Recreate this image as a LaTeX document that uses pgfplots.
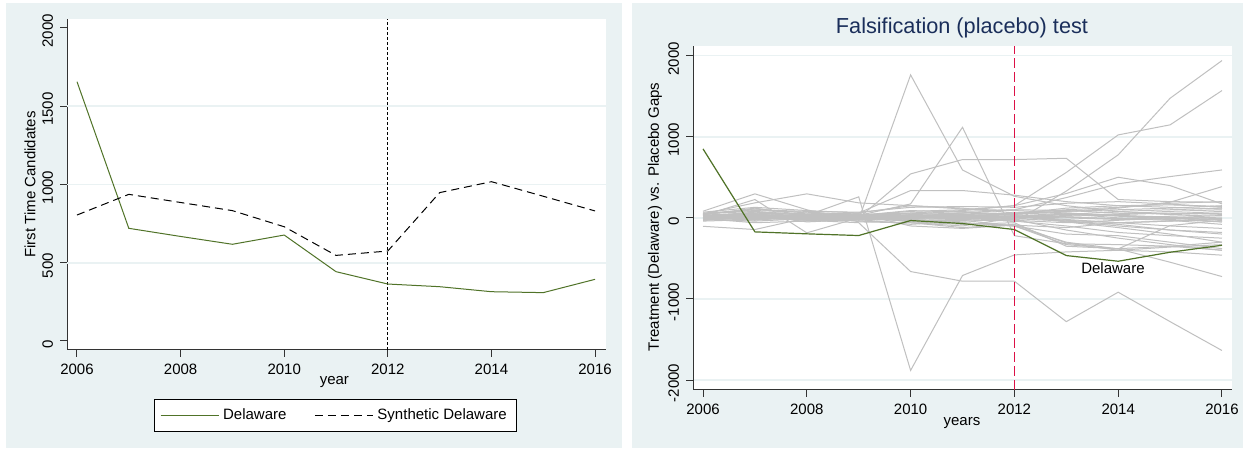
\documentclass[border=0pt]{standalone}
\usepackage{fontspec}
\setmainfont{Liberation Sans}
\usepackage{pgfplots}
\usepackage{pgfplotstable}
\pgfplotsset{compat=1.18}
\definecolor{stbg}{RGB}{234,242,243}
\definecolor{stgrid}{RGB}{234,242,243}
\definecolor{dgreen}{RGB}{80,115,40}
\definecolor{plc}{RGB}{192,192,192}
\definecolor{tnavy}{RGB}{26,46,90}
\definecolor{vred}{RGB}{220,16,70}

\pgfplotstableread{
yr   del   syn
2006 1657  805
2007 720   937
2008 668   885
2009 618   833
2010 677   730
2011 443   547
2012 364   575
2013 347   948
2014 315   1018
2015 309   925
2016 394   831
}\cand

\pgfplotstableread{
yr d p1 p2 p3 p4 p5 p6 p7 p8 p9 p10 p11 p12 p13 p14 p15 p16 p17 p18 p19 p20 p21 p22 p23 p24 p25 p26 p27 p28 p29 p30 p31 p32 p33 p34 p35 p36 p37 p38 p39 p40
2006 851 30 40 -10 0 50 20 -20 10 0 30 -30 20 82 50 -104 30 10 -20 30 0 60 -30 20 40 -10 0 70 10 -40 20 30 0 50 -20 0 10 -10 20 0 30
2007 -173 60 120 20 40 80 10 0 30 -30 50 20 -10 296 185 -144 226 30 -40 60 -20 90 10 0 110 -60 40 130 20 -20 70 50 10 100 0 20 20 0 40 -10 30
2008 -197 20 30 -30 -20 30 40 10 -10 20 0 -10 40 100 296 0 -185 20 -10 40 10 70 -20 -30 60 -40 30 90 0 30 50 -50 20 80 -10 0 0 10 20 -20 10
2009 -218 -20 259 -60 30 0 60 30 20 -10 40 0 -20 -50 185 50 0 -10 10 20 -30 40 20 -10 30 -20 50 60 30 0 10 -20 40 70 -40 10 -10 20 0 -10 20
2010 -33 1763 -1882 -662 172 542 337 80 20 40 60 30 -30 -60 150 -100 -40 20 -30 50 10 20 -50 40 90 -80 10 150 -20 20 -10 0 30 130 -60 -40 10 0 -20 20 60
2011 -70 590 -711 -781 1117 719 337 100 50 60 90 20 -60 -100 120 -130 -20 40 -20 80 0 -10 -80 20 70 -40 30 110 -60 60 20 10 0 140 -120 -30 20 -10 0 40 30
2012 -144 266 -457 -781 -220 719 280 150 -50 100 150 50 -100 0 60 -90 30 60 -40 100 20 -30 -60 0 50 -20 20 90 -100 40 60 -10 -20 130 -80 -100 10 0 20 20 40
2013 -465 150 -420 -1280 -320 735 200 560 330 250 300 80 -300 50 40 -120 -40 80 -100 90 -50 -60 -350 30 120 -150 -20 60 -200 10 100 -40 50 180 -310 -330 0 20 -30 60 10
2014 -535 80 -400 -917 -330 226 150 1023 777 420 501 120 -383 0 80 -60 -80 100 -180 60 -120 -30 -380 50 150 -250 -60 20 -220 -10 130 -100 30 200 -400 -383 -20 40 -60 30 -10
2015 -424 40 -360 -1280 -350 200 130 1147 1475 509 398 193 -547 -20 100 -40 -150 120 -220 50 -200 0 -350 80 160 -330 -100 0 -300 20 180 -150 0 170 -420 -95 -10 60 -40 10 -30
2016 -338 60 -330 -1636 -400 193 110 1570 1940 591 172 385 -724 -50 120 -10 -180 150 -250 80 -300 30 -300 100 140 -400 -130 -20 -380 40 200 -200 -50 130 -460 -30 10 50 -20 -10 -80
}\gaps

\pgfplotsset{
  stata/.style={
    scale only axis,
    axis x line*=bottom, axis y line*=left,
    every outer x axis line/.append style={-},
    every outer y axis line/.append style={-},
    axis line style={-, black!80, line width=0.5pt},
    tick align=outside,
    major tick length=3.5pt,
    every tick/.style={black!80, line width=0.5pt},
    tick label style={font=\fontsize{7.5}{9}\selectfont},
    label style={font=\fontsize{7.5}{9}\selectfont},
    axis background/.style={fill=white},
    xtick={2006,2008,2010,2012,2014,2016},
    xticklabels={2006,2008,2010,2012,2014,2016},
    yticklabel style={rotate=90, anchor=south, xshift=-1.5pt},
    every axis title shift=0pt,
    clip=false,
  }
}

\begin{document}
\begin{tikzpicture}
\useasboundingbox (0,0) rectangle (621.5pt,224.5pt);
\fill[white] (0,0) rectangle (621.5pt,224.5pt);
\fill[stbg] (3pt,0.5pt) rectangle (311pt,223pt);
\fill[stbg] (316pt,0.5pt) rectangle (621.5pt,223pt);

% ---------- left panel ----------
\begin{axis}[stata,
  at={(33.5pt,49.5pt)}, anchor=south west,
  width=269.5pt, height=165.5pt,
  xmin=2005.807, xmax=2016.212,
  ymin=-57.5, ymax=2057.5,
  ytick={0,500,1000,1500,2000},
  yticklabels={0,500,1000,1500,2000},
  extra y ticks={500,1000,1500},
  extra y tick labels={},
  extra y tick style={grid=major, major tick length=0pt, major grid style={stgrid, line width=0.8pt}},
  xlabel={year},
  xlabel style={at={(axis description cs:0.496,-0.0967)}, anchor=center},
  ylabel={First Time Candidates},
  ylabel style={at={(axis description cs:-0.0686,0.5)}, anchor=center},
  legend columns=2,
  legend style={at={(axis description cs:0.498,-0.198)}, anchor=center,
    draw=black, line width=0.5pt, fill=white,
    font=\fontsize{7.5}{9}\selectfont,
    inner xsep=3pt, inner ysep=2.5pt,
    /tikz/every even column/.append style={column sep=12pt}},
  legend image code/.code={\draw[#1] (0pt,0pt) -- (29pt,0pt);},
]
\addplot[black, line width=0.5pt, dash pattern=on 1.5pt off 1pt, forget plot] coordinates {(2012,-57.5) (2012,2057.5)};
\addplot[dgreen, line width=0.5pt] table[x=yr, y=del] {\cand};
\addlegendentry{Delaware}
\addplot[black, line width=0.5pt, dash pattern=on 4pt off 2.5pt] table[x=yr, y=syn] {\cand};
\addlegendentry{Synthetic Delaware}
\end{axis}

% ---------- right panel ----------
\begin{axis}[stata,
  at={(346.5pt,29.5pt)}, anchor=south west,
  width=269.5pt, height=172pt,
  xmin=2005.807, xmax=2016.193,
  ymin=-2123, ymax=2119.6,
  ytick={-2000,-1000,0,1000,2000},
  yticklabels={-2000,-1000,0,1000,2000},
  ymajorgrids, major grid style={stgrid, line width=0.8pt},
  xlabel={years},
  xlabel style={at={(axis description cs:0.499,-0.0959)}, anchor=center},
  ylabel={Treatment (Delaware) vs. Placebo Gaps},
  ylabel style={at={(axis description cs:-0.0705,0.503)}, anchor=center},
  title={Falsification (placebo) test},
  title style={at={(0.499,1.052)}, anchor=center, font=\fontsize{10.85}{13}\selectfont, text=tnavy},
]
\pgfplotsinvokeforeach{1,...,40}{
  \addplot[plc, line width=0.5pt, forget plot] table[x=yr, y=p#1] {\gaps};
}
\addplot[dgreen, line width=0.6pt, forget plot] table[x=yr, y=d] {\gaps};
\addplot[vred, line width=0.6pt, dash pattern=on 5pt off 2pt, forget plot] coordinates {(2012,-2123) (2012,2119.6)};
\node[font=\fontsize{7.5}{9}\selectfont, anchor=center] at (axis cs:2013.9,-625) {Delaware};
\end{axis}
\end{tikzpicture}
\end{document}
